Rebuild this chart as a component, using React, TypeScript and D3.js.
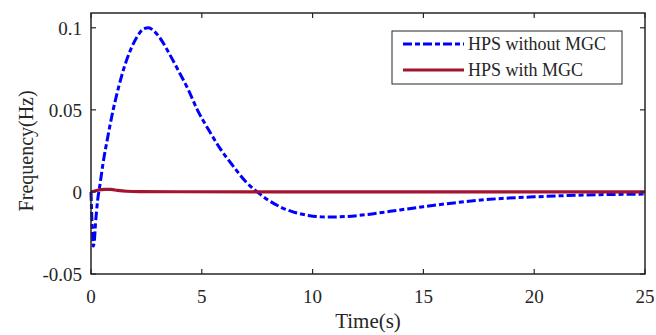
import React, { useRef, useEffect } from "react";
import * as d3 from "d3";

// Time (s) samples and frequency deviation (Hz)
const timeWithout = [0, 0.05, 0.1, 0.15, 0.2, 0.3, 0.4, 0.55, 0.75, 1.0, 1.25, 1.5, 1.8, 2.1, 2.4, 2.6, 2.8, 3.1, 3.5, 3.9, 4.4, 4.8, 5.3, 5.8, 6.4, 7.0, 7.5, 8.0, 8.6, 9.2, 9.8, 10.4, 10.8, 11.5, 12.5, 13.5, 15, 16.5, 18, 20, 22, 25];
const freqWithout = [0, -0.02, -0.033, -0.03, -0.02, -0.005, 0.004, 0.018, 0.033, 0.05, 0.064, 0.076, 0.087, 0.095, 0.0995, 0.1, 0.0985, 0.094, 0.085, 0.075, 0.062, 0.05, 0.038, 0.027, 0.016, 0.006, 0.0, -0.005, -0.0095, -0.0125, -0.0143, -0.0152, -0.0153, -0.015, -0.0137, -0.0118, -0.009, -0.0065, -0.0045, -0.003, -0.002, -0.0013];

const timeWith = [0, 0.15, 0.35, 0.6, 0.9, 1.2, 1.6, 2.2, 4, 10, 25];
const freqWith = [0, 0.0006, 0.0012, 0.0016, 0.0015, 0.0009, 0.0004, 0.0002, 0.0001, 0, 0];

const xTicks = [0, 5, 10, 15, 20, 25];
const yTicks = [-0.05, 0, 0.05, 0.1];
const seriesNames = ["HPS without MGC", "HPS with MGC"];

type Pt = { t: number; v: number };

export default function App() {
  const svgRef = useRef<SVGSVGElement>(null);

  useEffect(() => {
    if (!svgRef.current) return;
    const svg = d3.select(svgRef.current);
    svg.selectAll("*").remove();

    const width = 656;
    const height = 335;
    const margin = { top: 13, right: 11, bottom: 61, left: 91 };
    const innerWidth = width - margin.left - margin.right;
    const innerHeight = height - margin.top - margin.bottom;
    const font = "'Liberation Serif', 'Times New Roman', serif";
    const axisColor = "#262626";
    const dash = "9,3,5,3";

    const x = d3.scaleLinear().domain([0, 25]).range([0, innerWidth]);
    const y = d3.scaleLinear().domain([-0.05, 0.109]).range([innerHeight, 0]);

    const g = svg.append("g").attr("transform", `translate(${margin.left},${margin.top})`);

    const without: Pt[] = timeWithout.map((t, i) => ({ t, v: freqWithout[i] }));
    const withMgc: Pt[] = timeWith.map((t, i) => ({ t, v: freqWith[i] }));

    const line = d3.line<Pt>()
      .x(d => x(d.t))
      .y(d => y(d.v))
      .curve(d3.curveMonotoneX);

    g.append("path")
      .datum(without)
      .attr("fill", "none")
      .attr("stroke", "#0000ff")
      .attr("stroke-width", 3)
      .attr("stroke-dasharray", dash)
      .attr("d", line);

    g.append("path")
      .datum(withMgc)
      .attr("fill", "none")
      .attr("stroke", "#a2142f")
      .attr("stroke-width", 3.2)
      .attr("d", line);

    // Box with inward ticks
    g.append("rect")
      .attr("width", innerWidth)
      .attr("height", innerHeight)
      .attr("fill", "none")
      .attr("stroke", axisColor)
      .attr("stroke-width", 1.5);

    const tickLen = 5;
    xTicks.forEach(t => {
      g.append("line").attr("x1", x(t)).attr("x2", x(t)).attr("y1", innerHeight).attr("y2", innerHeight - tickLen)
        .attr("stroke", axisColor).attr("stroke-width", 1.2);
      g.append("line").attr("x1", x(t)).attr("x2", x(t)).attr("y1", 0).attr("y2", tickLen)
        .attr("stroke", axisColor).attr("stroke-width", 1.2);
      g.append("text")
        .attr("x", x(t))
        .attr("y", innerHeight + 29)
        .attr("text-anchor", "middle")
        .style("font-family", font)
        .style("font-size", "19px")
        .style("fill", axisColor)
        .text(String(t));
    });

    yTicks.forEach(v => {
      g.append("line").attr("x1", 0).attr("x2", tickLen).attr("y1", y(v)).attr("y2", y(v))
        .attr("stroke", axisColor).attr("stroke-width", 1.2);
      g.append("line").attr("x1", innerWidth).attr("x2", innerWidth - tickLen).attr("y1", y(v)).attr("y2", y(v))
        .attr("stroke", axisColor).attr("stroke-width", 1.2);
      g.append("text")
        .attr("x", -9)
        .attr("y", y(v) + 7)
        .attr("text-anchor", "end")
        .style("font-family", font)
        .style("font-size", "19px")
        .style("fill", axisColor)
        .text(v === 0 ? "0" : String(v));
    });

    // Axis titles
    g.append("text")
      .attr("x", innerWidth / 2)
      .attr("y", innerHeight + 54)
      .attr("text-anchor", "middle")
      .style("font-family", font)
      .style("font-size", "21px")
      .style("fill", axisColor)
      .text("Time(s)");

    g.append("text")
      .attr("transform", "rotate(-90)")
      .attr("x", -(y(0.025)))
      .attr("y", -58)
      .attr("text-anchor", "middle")
      .style("font-family", font)
      .style("font-size", "20px")
      .style("fill", axisColor)
      .text("Frequency(Hz)");

    // Legend
    const legend = g.append("g").attr("transform", `translate(${392 - margin.left},${31 - margin.top})`);
    legend.append("rect")
      .attr("width", 230)
      .attr("height", 53)
      .attr("fill", "#ffffff")
      .attr("stroke", axisColor)
      .attr("stroke-width", 1);

    const legendStyles = [
      { stroke: "#0000ff", dash: dash as string | null },
      { stroke: "#a2142f", dash: null as string | null },
    ];
    seriesNames.forEach((name, i) => {
      const ly = 13 + i * 26;
      const l = legend.append("line")
        .attr("x1", 11).attr("x2", 72).attr("y1", ly).attr("y2", ly)
        .attr("stroke", legendStyles[i].stroke)
        .attr("stroke-width", 3);
      if (legendStyles[i].dash) l.attr("stroke-dasharray", legendStyles[i].dash as string);
      legend.append("text")
        .attr("x", 76)
        .attr("y", ly + 6)
        .style("font-family", font)
        .style("font-size", "18px")
        .style("fill", axisColor)
        .text(name);
    });
  }, []);

  return (
    <svg
      ref={svgRef}
      width={656}
      height={335}
      style={{ position: "absolute", left: 0, top: 0, background: "#ffffff" }}
    />
  );
}
